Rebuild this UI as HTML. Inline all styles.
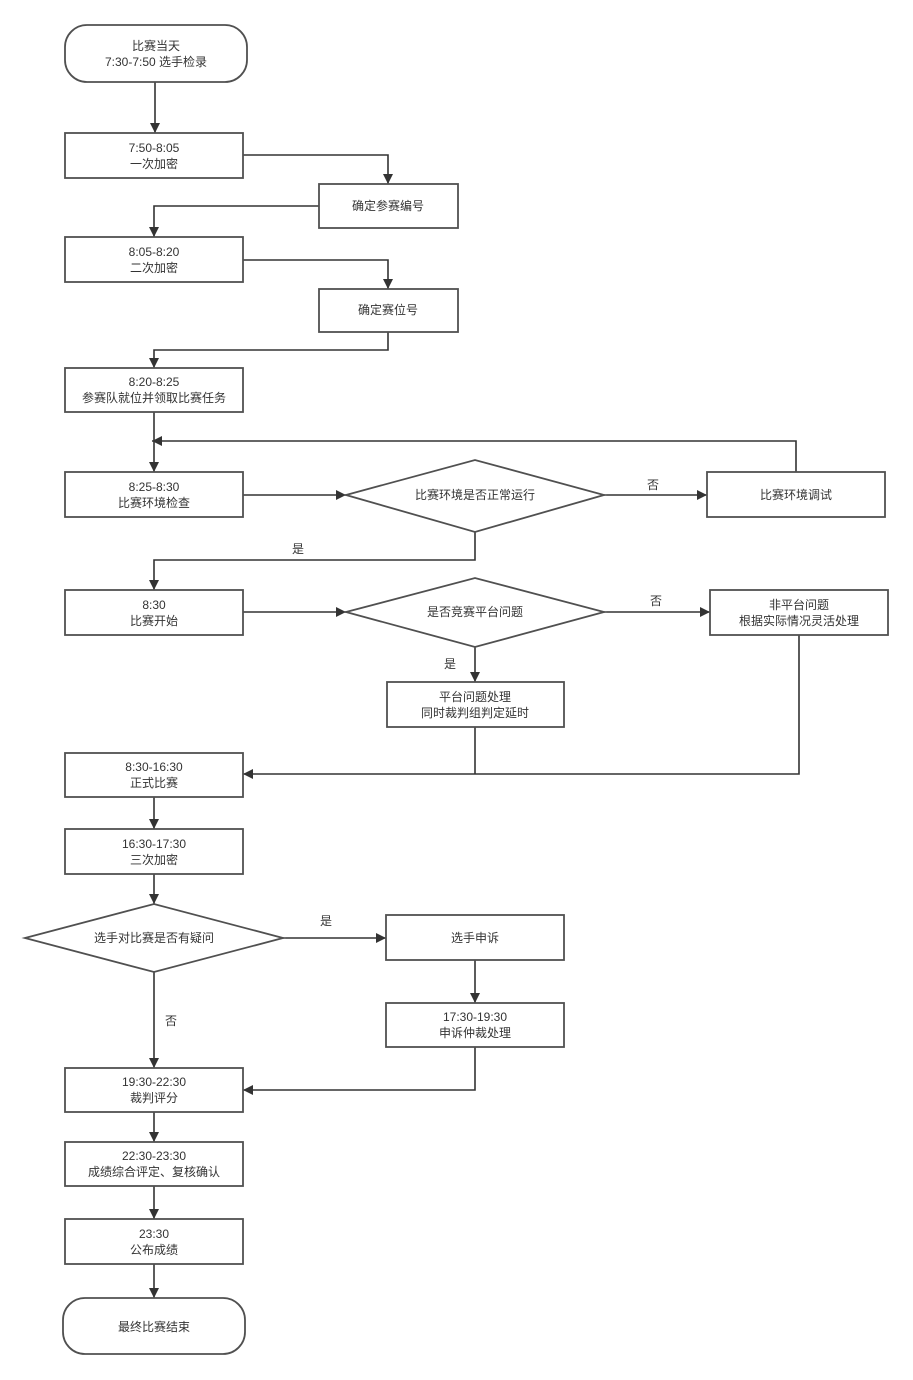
<!DOCTYPE html>
<html><head><meta charset="utf-8"><style>
html,body{margin:0;padding:0;background:#fff}
svg{display:block}
text{font-family:"Liberation Sans","Noto Sans CJK SC",sans-serif;font-size:12px;fill:#333;text-anchor:middle}
.s{fill:#fff;stroke:#505050;stroke-width:1.8}
.l{fill:none;stroke:#333;stroke-width:1.6}
</style></head><body>
<svg width="913" height="1380" viewBox="0 0 913 1380" xmlns="http://www.w3.org/2000/svg">
<defs><marker id="a" viewBox="0 0 10 10" refX="10" refY="5" markerWidth="11" markerHeight="10" markerUnits="userSpaceOnUse" orient="auto"><path d="M0,0 L10,5 L0,10 z" fill="#333"/></marker></defs>
<path class="l" d="M155,82 V133" marker-end="url(#a)"/>
<path class="l" d="M243,155 H388 V184" marker-end="url(#a)"/>
<path class="l" d="M319,206 H154 V237" marker-end="url(#a)"/>
<path class="l" d="M243,260 H388 V289" marker-end="url(#a)"/>
<path class="l" d="M388,332 V350 H154 V368" marker-end="url(#a)"/>
<path class="l" d="M154,412 V472" marker-end="url(#a)"/>
<path class="l" d="M796,472 V441 H152" marker-end="url(#a)"/>
<path class="l" d="M243,495 H346" marker-end="url(#a)"/>
<path class="l" d="M604,495 H707" marker-end="url(#a)"/>
<path class="l" d="M475,532 V560 H154 V590" marker-end="url(#a)"/>
<path class="l" d="M243,612 H346" marker-end="url(#a)"/>
<path class="l" d="M604,612 H710" marker-end="url(#a)"/>
<path class="l" d="M475,647 V682" marker-end="url(#a)"/>
<path class="l" d="M475,727 V774"/>
<path class="l" d="M799,635 V774 H243" marker-end="url(#a)"/>
<path class="l" d="M154,797 V829" marker-end="url(#a)"/>
<path class="l" d="M154,874 V904" marker-end="url(#a)"/>
<path class="l" d="M283,938 H386" marker-end="url(#a)"/>
<path class="l" d="M475,960 V1003" marker-end="url(#a)"/>
<path class="l" d="M475,1047 V1090 H243" marker-end="url(#a)"/>
<path class="l" d="M154,972 V1068" marker-end="url(#a)"/>
<path class="l" d="M154,1112 V1142" marker-end="url(#a)"/>
<path class="l" d="M154,1186 V1219" marker-end="url(#a)"/>
<path class="l" d="M154,1264 V1298" marker-end="url(#a)"/>
<rect class="s" x="65" y="25" width="182" height="57" rx="22"/>
<text x="156" y="50">比赛当天</text><text x="156" y="66">7:30-7:50 选手检录</text>
<rect class="s" x="65" y="133" width="178" height="45"/>
<text x="154" y="152">7:50-8:05</text><text x="154" y="168">一次加密</text>
<rect class="s" x="319" y="184" width="139" height="44"/>
<text x="388" y="210">确定参赛编号</text>
<rect class="s" x="65" y="237" width="178" height="45"/>
<text x="154" y="256">8:05-8:20</text><text x="154" y="272">二次加密</text>
<rect class="s" x="319" y="289" width="139" height="43"/>
<text x="388" y="314">确定赛位号</text>
<rect class="s" x="65" y="368" width="178" height="44"/>
<text x="154" y="386">8:20-8:25</text><text x="154" y="402">参赛队就位并领取比赛任务</text>
<rect class="s" x="65" y="472" width="178" height="45"/>
<text x="154" y="491">8:25-8:30</text><text x="154" y="507">比赛环境检查</text>
<polygon class="s" points="346,495 475,460 604,495 475,532"/>
<text x="475" y="499">比赛环境是否正常运行</text>
<rect class="s" x="707" y="472" width="178" height="45"/>
<text x="796" y="499">比赛环境调试</text>
<text x="653" y="489">否</text>
<text x="298" y="553">是</text>
<rect class="s" x="65" y="590" width="178" height="45"/>
<text x="154" y="609">8:30</text><text x="154" y="625">比赛开始</text>
<polygon class="s" points="346,612 475,578 604,612 475,647"/>
<text x="475" y="616">是否竞赛平台问题</text>
<rect class="s" x="710" y="590" width="178" height="45"/>
<text x="799" y="609">非平台问题</text><text x="799" y="625">根据实际情况灵活处理</text>
<text x="656" y="605">否</text>
<text x="450" y="668">是</text>
<rect class="s" x="387" y="682" width="177" height="45"/>
<text x="475" y="701">平台问题处理</text><text x="475" y="717">同时裁判组判定延时</text>
<rect class="s" x="65" y="753" width="178" height="44"/>
<text x="154" y="771">8:30-16:30</text><text x="154" y="787">正式比赛</text>
<rect class="s" x="65" y="829" width="178" height="45"/>
<text x="154" y="848">16:30-17:30</text><text x="154" y="864">三次加密</text>
<polygon class="s" points="25,938 154,904 283,938 154,972"/>
<text x="154" y="942">选手对比赛是否有疑问</text>
<text x="326" y="925">是</text>
<rect class="s" x="386" y="915" width="178" height="45"/>
<text x="475" y="942">选手申诉</text>
<rect class="s" x="386" y="1003" width="178" height="44"/>
<text x="475" y="1021">17:30-19:30</text><text x="475" y="1037">申诉仲裁处理</text>
<text x="171" y="1025">否</text>
<rect class="s" x="65" y="1068" width="178" height="44"/>
<text x="154" y="1086">19:30-22:30</text><text x="154" y="1102">裁判评分</text>
<rect class="s" x="65" y="1142" width="178" height="44"/>
<text x="154" y="1160">22:30-23:30</text><text x="154" y="1176">成绩综合评定、复核确认</text>
<rect class="s" x="65" y="1219" width="178" height="45"/>
<text x="154" y="1238">23:30</text><text x="154" y="1254">公布成绩</text>
<rect class="s" x="63" y="1298" width="182" height="56" rx="22"/>
<text x="154" y="1331">最终比赛结束</text>
</svg>
</body></html>
